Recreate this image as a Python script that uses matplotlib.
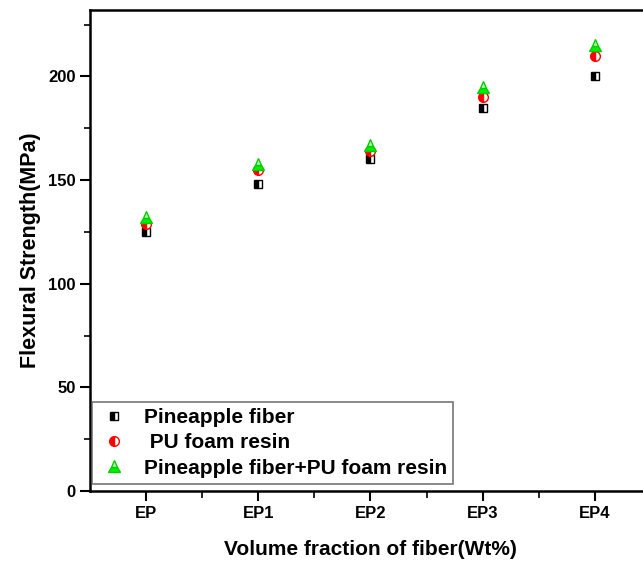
import matplotlib.pyplot as plt
import numpy as np

# data
samples = ["EP", "EP1", "EP2", "EP3", "EP4"]
pineapple = [125, 148, 160, 185, 200]
pu_foam = [129, 155, 164, 190, 210]
pineapple_pu = [132, 158, 167, 195, 215]

plt.rcParams['font.family'] = ['Liberation Sans', 'DejaVu Sans']
plt.rcParams['font.weight'] = 'bold'

fig = plt.figure(figsize=(6.43, 5.62), dpi=100)
ax = fig.add_axes([0.14, 0.1263, 0.8724, 0.8557])

x = np.arange(len(samples))
ax.plot(x, pineapple, ls='none', marker='s', ms=6, color='black', mfc='black',
        mfcalt='white', fillstyle='left', mec='black', mew=1, label='Pineapple fiber')
ax.plot(x, pu_foam, ls='none', marker='o', ms=7, color='red', mfc='red',
        mfcalt='white', fillstyle='left', mec='red', mew=1, label=' PU foam resin')
ax.plot(x, pineapple_pu, ls='none', marker='^', ms=8, color='#00e000', mfc='#00ee00',
        mfcalt='#b0ffb0', fillstyle='bottom', mec='#00cc00', mew=1,
        label='Pineapple fiber+PU foam resin')

ax.set_xlim(-0.5, 4.5)
ax.set_ylim(0, 232)
ax.set_xticks(x)
ax.set_xticklabels(samples)
ax.set_xticks(x[:-1] + 0.5, minor=True)
ax.set_yticks([0, 50, 100, 150, 200])
ax.set_yticks([25, 75, 125, 175, 225], minor=True)
ax.tick_params(axis='both', which='major', direction='out', length=7, width=1.5,
               labelsize=12)
ax.tick_params(axis='y', which='minor', direction='out', length=4, width=1.2)
ax.tick_params(axis='x', which='minor', direction='out', length=5, width=1.2)
for sp in ax.spines.values():
    sp.set_linewidth(1.8)

ax.set_xlabel('Volume fraction of fiber(Wt%)', fontsize=15, fontweight='bold', labelpad=14)
ax.set_ylabel('Flexural Strength(MPa)', fontsize=15.5, fontweight='bold', labelpad=5)

leg = ax.legend(loc='lower left', bbox_to_anchor=(0.003, 0.015), borderaxespad=0,
                fancybox=False, edgecolor='#555555', fontsize=15, handletextpad=0.7,
                borderpad=0.3, labelspacing=0.3, handlelength=1.5)
leg.get_frame().set_linewidth(1.2)
for t in leg.get_texts():
    t.set_fontweight('bold')

fig.savefig('out.png', dpi=100)
